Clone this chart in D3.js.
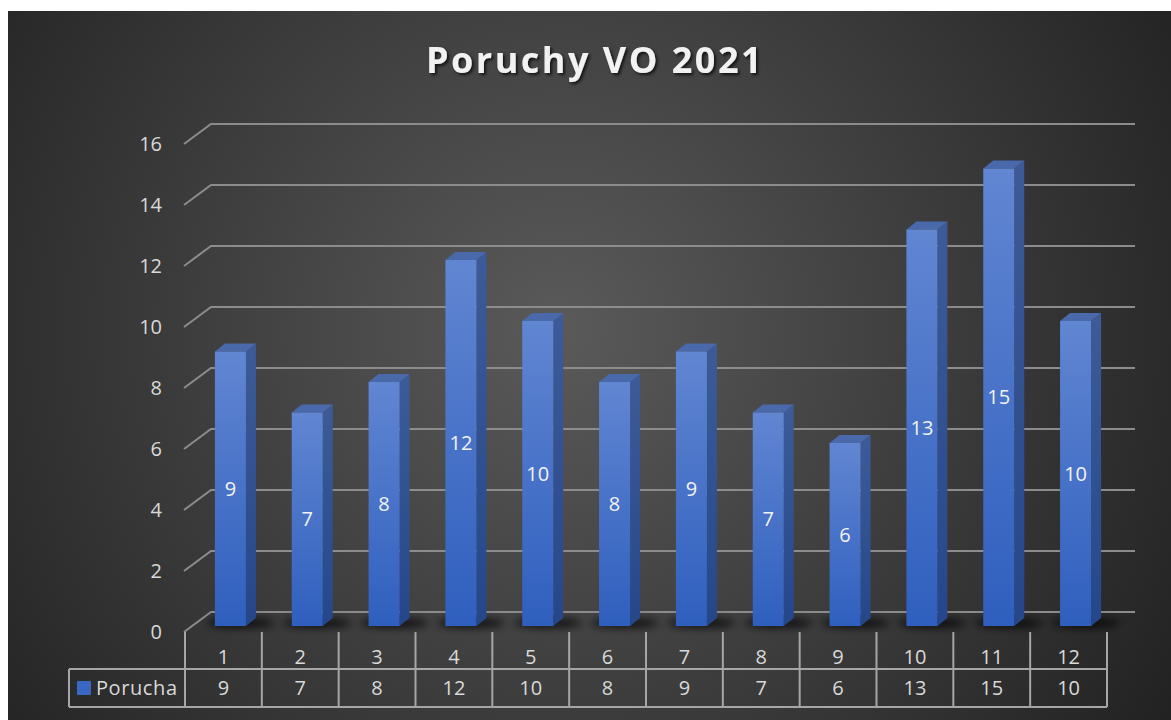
<!DOCTYPE html>
<meta charset="utf-8">
<style>
  body { margin: 0; background: #fff; }
  text { font-family: "Open Sans", "Noto Sans", sans-serif; }
</style>
<body>
<script src="https://d3js.org/d3.v7.min.js"></script>
<script>
// chart data
var months = ["1", "2", "3", "4", "5", "6", "7", "8", "9", "10", "11", "12"];
var poruchy = [9, 7, 8, 12, 10, 8, 9, 7, 6, 13, 15, 10];
var yTicks = [0, 2, 4, 6, 8, 10, 12, 14, 16];
var seriesName = "Porucha";
var title = "Poruchy VO 2021";

var W = 1171, H = 720;
var depthX = 27, depthY = 20;   // wall depth (front -> back)
var fs = 20;

var svg = d3.select("body").append("svg")
    .attr("width", W).attr("height", H);

var defs = svg.append("defs");
var bg = defs.append("radialGradient").attr("id", "bg")
    .attr("gradientUnits", "userSpaceOnUse")
    .attr("cx", 560).attr("cy", 330).attr("r", 720);
bg.append("stop").attr("offset", 0).attr("stop-color", "#5a5a5a");
bg.append("stop").attr("offset", 1).attr("stop-color", "#222");

var front = defs.append("linearGradient").attr("id", "front")
    .attr("x1", 0).attr("y1", 0).attr("x2", 0).attr("y2", 1);
front.append("stop").attr("offset", 0).attr("stop-color", "#6186d2");
front.append("stop").attr("offset", 1).attr("stop-color", "#2f5fbe");
var side = defs.append("linearGradient").attr("id", "side")
    .attr("x1", 0).attr("y1", 0).attr("x2", 0).attr("y2", 1);
side.append("stop").attr("offset", 0).attr("stop-color", "#3d5b98");
side.append("stop").attr("offset", 1).attr("stop-color", "#25478a");

defs.append("filter").attr("id", "blur")
    .attr("x", "-20%").attr("y", "-200%").attr("width", "140%").attr("height", "500%")
  .append("feGaussianBlur").attr("stdDeviation", 4);
var ts = defs.append("filter").attr("id", "tshadow");
ts.append("feDropShadow").attr("dx", 2).attr("dy", 2).attr("stdDeviation", 1.5)
    .attr("flood-color", "#000").attr("flood-opacity", 0.7);

// background
svg.append("rect").attr("x", 8).attr("y", 11)
    .attr("width", W - 8).attr("height", H - 11)
    .attr("fill", "url(#bg)");

// scales
var x = d3.scaleBand().domain(months).range([185, 1107]);
var y = d3.scaleLinear().domain([0, 16]).range([612, 124]);
var backRight = 1135;

// title
svg.append("text")
    .attr("x", 595).attr("y", 73)
    .attr("text-anchor", "middle")
    .attr("fill", "#f2f2f2")
    .attr("font-size", 36).attr("font-weight", "bold")
    .attr("letter-spacing", 2.5)
    .attr("filter", "url(#tshadow)")
    .text(title);

// gridlines (back wall + side wall diagonal)
var grid = svg.append("g").attr("fill", "none")
    .attr("stroke", "#8c8c8c").attr("stroke-width", 2);
grid.selectAll("path").data(yTicks).enter().append("path")
    .attr("d", function(d) {
      var yb = y(d);
      return "M" + (x.range()[0] - 1) + "," + (yb + depthY)
        + "L" + (x.range()[0] - 1 + depthX) + "," + yb
        + "L" + backRight + "," + yb;
    });

// y tick labels
svg.append("g").selectAll("text").data(yTicks).enter().append("text")
    .attr("x", 162).attr("y", function(d) { return y(d) + depthY; })
    .attr("dy", "0.35em")
    .attr("text-anchor", "end")
    .attr("fill", "#d9d9d9").attr("font-size", fs)
    .text(function(d) { return d; });

// bars
var bw = 31, bdx = 10, bdy = 8, shift = 7, base = y(0) + 14;
var barX = function(d, i) { return x(months[i]) + x.bandwidth() / 2 - bw / 2 + shift; };

var shadow = svg.append("g").attr("filter", "url(#blur)");
shadow.selectAll("ellipse").data(poruchy).enter().append("ellipse")
    .attr("cx", function(d, i) { return barX(d, i) + bw / 2 + 10; })
    .attr("cy", base - 3)
    .attr("rx", 34).attr("ry", 5)
    .attr("fill", "#000").attr("opacity", 0.75);

var bars = svg.append("g").selectAll("g").data(poruchy).enter().append("g");
bars.append("path")
    .attr("fill", "url(#side)")
    .attr("d", function(d, i) {
      var x1 = barX(d, i) + bw, yt = y(d) + 14;
      return "M" + x1 + "," + yt + "L" + (x1 + bdx) + "," + (yt - bdy)
        + "L" + (x1 + bdx) + "," + (base - bdy) + "L" + x1 + "," + base + "Z";
    });
bars.append("path")
    .attr("fill", "#4a69ab")
    .attr("d", function(d, i) {
      var x0 = barX(d, i), yt = y(d) + 14;
      return "M" + x0 + "," + yt + "L" + (x0 + bw) + "," + yt
        + "L" + (x0 + bw + bdx) + "," + (yt - bdy) + "L" + (x0 + bdx) + "," + (yt - bdy) + "Z";
    });
bars.append("rect")
    .attr("x", barX)
    .attr("y", function(d) { return y(d) + 14; })
    .attr("width", bw)
    .attr("height", function(d) { return base - (y(d) + 14); })
    .attr("fill", "url(#front)");
bars.append("text")
    .attr("x", function(d, i) { return barX(d, i) + bw / 2; })
    .attr("y", function(d) { return (base + y(d) + 14) / 2; })
    .attr("dy", "0.35em")
    .attr("text-anchor", "middle")
    .attr("fill", "#f2f2f2").attr("font-size", fs)
    .text(function(d) { return d; });

// data table
var rowTop = 632, rowMid = 669, rowBot = 707, legLeft = 69;
var tbl = svg.append("g").attr("stroke", "#a6a6a6").attr("stroke-width", 2).attr("fill", "none");
tbl.append("path").attr("d",
  "M" + legLeft + "," + rowMid + "L" + x.range()[1] + "," + rowMid
  + "M" + legLeft + "," + rowBot + "L" + x.range()[1] + "," + rowBot
  + "M" + legLeft + "," + rowMid + "L" + legLeft + "," + rowBot);
tbl.selectAll("line").data(months.concat(["end"])).enter().append("line")
    .attr("x1", function(d, i) { return x.range()[0] + i * x.bandwidth(); })
    .attr("x2", function(d, i) { return x.range()[0] + i * x.bandwidth(); })
    .attr("y1", rowTop).attr("y2", rowBot);

svg.append("g").selectAll("text").data(months).enter().append("text")
    .attr("x", function(d) { return x(d) + x.bandwidth() / 2; })
    .attr("y", (rowTop + rowMid) / 2 + 6).attr("dy", "0.35em")
    .attr("text-anchor", "middle")
    .attr("fill", "#d9d9d9").attr("font-size", fs)
    .text(function(d) { return d; });

svg.append("g").selectAll("text").data(poruchy).enter().append("text")
    .attr("x", function(d, i) { return x(months[i]) + x.bandwidth() / 2; })
    .attr("y", (rowMid + rowBot) / 2).attr("dy", "0.35em")
    .attr("text-anchor", "middle")
    .attr("fill", "#d9d9d9").attr("font-size", fs)
    .text(function(d) { return d; });

// legend key in table
svg.append("rect").attr("x", 77).attr("y", 681)
    .attr("width", 14).attr("height", 14).attr("fill", "#3a66c4");
svg.append("text").attr("x", 96).attr("y", (rowMid + rowBot) / 2).attr("dy", "0.35em")
    .attr("fill", "#d9d9d9").attr("font-size", fs)
    .attr("textLength", 81)
    .text(seriesName);
</script>
</body>
